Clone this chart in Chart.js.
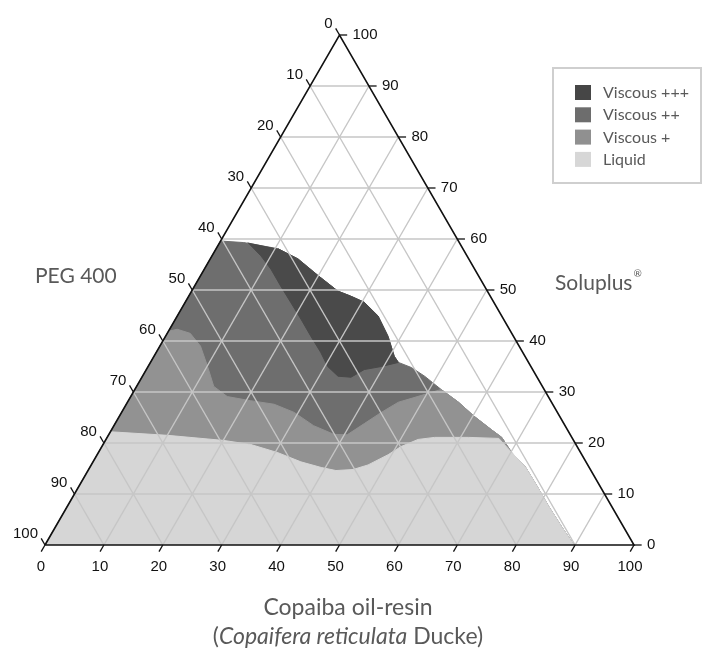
<!DOCTYPE html>
<html>
<head>
<meta charset="utf-8">
<script src="https://cdn.jsdelivr.net/npm/chart.js@4.4.1/dist/chart.umd.min.js"></script>
<style>
  html, body { margin: 0; padding: 0; background: #fff; }
  #wrap { width: 708px; height: 648px; }
</style>
</head>
<body>
<div id="wrap"><canvas id="ternary" width="708" height="648"></canvas></div>
<script>
// axis ticks (same 0..100 scale on the three sides)
const tickValues = [0, 10, 20, 30, 40, 50, 60, 70, 80, 90, 100];
const gridValues = [10, 20, 30, 40, 50, 60, 70, 80, 90];

const legendLabels = ['Viscous +++', 'Viscous ++', 'Viscous +', 'Liquid'];
const legendColors = ['#464646', '#6d6d6d', '#909090', '#d7d7d7'];

// region borders, each point = [Copaiba %, Soluplus %]
// (PEG 400 is the rest to 100)
// top/right border of the whole viscous zone, from the PEG axis down to the base
const viscousEdge = [
  [0, 59.6], [4.1, 59.3], [10.5, 58.1], [14.9, 56.1], [20.0, 52.8], [24.8, 49.8],
  [27.5, 48.8], [30.4, 47.6], [34.1, 44.9], [37.8, 40.9], [40.8, 37.0], [42.1, 35.8],
  [44.8, 34.8], [47.9, 33.1], [52.0, 30.5], [56.2, 28.0], [60.3, 25.2], [64.5, 22.6],
  [67.0, 21.1], [70.2, 18.1], [73.8, 15.4], [77.8, 11.5], [81.8, 7.5], [85.9, 3.6], [89.8, 0]
];
// lower border of Viscous +++
const triplePlusEdge = [
  [4.8, 59.3], [8.3, 56.7], [11.3, 54.1], [14.6, 50.8], [17.9, 47.6], [21.3, 44.3],
  [24.7, 40.9], [27.9, 37.8], [30.5, 35.0], [33.2, 33.1], [35.5, 32.9], [37.0, 34.4],
  [39.6, 35.0], [42.1, 35.8]
];
// upper border of Viscous +
const plusEdge = [
  [0, 41.9], [1.3, 42.3], [3.9, 41.5], [6.9, 39.0], [10.1, 35.0], [13.1, 31.1],
  [16.4, 29.1], [20.7, 28.3], [25.1, 27.6], [29.3, 26.0], [33.9, 23.4], [38.2, 21.7],
  [40.5, 21.6], [42.3, 23.8], [44.1, 26.0], [46.0, 28.0], [48.2, 28.9], [50.6, 29.9]
];
// upper border of Liquid
const liquidEdge = [
  [0, 22.2], [10.1, 21.5], [20.1, 20.5], [25.1, 19.7], [30.5, 18.1], [35.3, 16.3],
  [39.3, 15.2], [42.1, 14.6], [44.9, 14.8], [47.0, 15.7], [49.4, 17.7], [50.8, 19.3],
  [53.0, 20.7], [55.6, 21.1], [61.4, 21.1], [66.6, 20.9]
];

const H = Math.sqrt(3) / 2;
// ternary (copaiba, soluplus) -> plane
function toXY(p) {
  return { x: p[0] + p[1] / 2, y: p[1] * H };
}

// closed shapes, painted from back to front
const viscous2Shape = [[0, 0]].concat(viscousEdge);
const viscous1Shape = plusEdge.concat(viscousEdge.filter(p => p[0] > 51), [[0, 0]]);
const viscous3Shape = triplePlusEdge.concat(viscousEdge.filter(p => p[0] > 4.8 && p[0] < 42.1).reverse());
const liquidShape = liquidEdge.concat(viscousEdge.filter(p => p[1] < 20), [[0, 0]]);

const datasets = [];

function addArea(points, color, order) {
  datasets.push({
    data: points.map(toXY),
    showLine: true,
    fill: 'shape',
    backgroundColor: color,
    borderColor: color,
    borderWidth: 1,
    pointRadius: 0,
    tension: 0,
    order: order
  });
}

function addLine(points, color, width, order, clip) {
  datasets.push({
    data: points.map(toXY),
    showLine: true,
    fill: false,
    borderColor: color,
    borderWidth: width,
    pointRadius: 0,
    tension: 0,
    order: order,
    clip: clip
  });
}

addArea(viscous2Shape, '#6e6e6e', 40);
addArea(viscous1Shape, '#929292', 30);
addArea(viscous3Shape, '#4a4a4a', 20);
addArea(liquidShape, '#d6d6d6', 10);

// grid
gridValues.forEach(v => {
  addLine([[0, v], [100 - v, v]], '#c6c6c6', 1.4, 5, 0);        // Soluplus
  addLine([[v, 0], [v, 100 - v]], '#c6c6c6', 1.4, 5, 0);        // Copaiba
  addLine([[100 - v, 0], [0, 100 - v]], '#c6c6c6', 1.4, 5, 0);  // PEG
});

// frame
addLine([[0, 0], [100, 0], [0, 100], [0, 0]], '#111', 1.6, 1, false);

// ticks
const tk = 1.3;
tickValues.forEach(v => {
  addLine([[v, 0], [v, -tk]], '#111', 1.3, 1, false);                        // bottom
  addLine([[100 - v, v], [100 - v + tk, v]], '#111', 1.3, 1, false);         // right
  addLine([[0, 100 - v], [-tk, 100 - v + tk]], '#111', 1.3, 1, false);       // left
});

const textPlugin = {
  id: 'ternaryText',
  afterDraw(chart) {
    const ctx = chart.ctx;
    const xs = chart.scales.x, ys = chart.scales.y;
    const px = p => [xs.getPixelForValue(p[0] + p[1] / 2), ys.getPixelForValue(p[1] * H)];
    ctx.save();

    // tick labels
    ctx.fillStyle = '#111';
    ctx.font = '15px "Liberation Sans", Arial, sans-serif';
    ctx.textBaseline = 'middle';
    tickValues.forEach(v => {
      let [x, y] = px([v, 0]);
      ctx.textAlign = 'center';
      ctx.fillText(String(v), x - 4, y + 22);

      [x, y] = px([0, 100 - v]);
      ctx.textAlign = 'right';
      ctx.fillText(String(v), x - 7, y - 11);

      [x, y] = px([100 - v, v]);
      ctx.textAlign = 'left';
      ctx.fillText(String(v), x + 13, y);
    });

    // axis titles
    ctx.fillStyle = '#595959';
    ctx.font = '21px Lato, "Open Sans", sans-serif';
    ctx.textAlign = 'left';
    ctx.fillText('PEG 400', 35, 276);

    ctx.fillText('Soluplus', 555, 283);
    const sw = ctx.measureText('Soluplus').width;
    ctx.font = '10px Lato, "Open Sans", sans-serif';
    ctx.fillText('®', 555 + sw + 1, 274);

    ctx.font = '23px Lato, "Open Sans", sans-serif';
    ctx.textAlign = 'center';
    ctx.fillText('Copaiba oil-resin', 348, 608);

    const parts = [
      ['(', 'normal'],
      ['Copaifera reticulata', 'italic'],
      [' Ducke)', 'normal']
    ];
    let total = 0;
    parts.forEach(p => {
      ctx.font = p[1] + ' 23px Lato, "Open Sans", sans-serif';
      total += ctx.measureText(p[0]).width;
    });
    let cx = 348 - total / 2;
    ctx.textAlign = 'left';
    parts.forEach(p => {
      ctx.font = p[1] + ' 23px Lato, "Open Sans", sans-serif';
      ctx.fillText(p[0], cx, 637);
      cx += ctx.measureText(p[0]).width;
    });

    // legend
    ctx.strokeStyle = '#cfcfcf';
    ctx.lineWidth = 2;
    ctx.strokeRect(553, 68, 148, 115);
    ctx.font = '16px Lato, "Open Sans", sans-serif';
    legendLabels.forEach((lab, i) => {
      const y = 85 + i * 22.3;
      ctx.fillStyle = legendColors[i];
      ctx.fillRect(575, y, 16, 15);
      ctx.fillStyle = '#595959';
      ctx.fillText(lab, 603, y + 8);
    });

    ctx.restore();
  }
};

new Chart(document.getElementById('ternary'), {
  type: 'scatter',
  data: { datasets: datasets },
  options: {
    responsive: false,
    animation: false,
    events: [],
    layout: { padding: { left: 45, right: 74, top: 35, bottom: 103 } },
    scales: {
      x: { type: 'linear', min: 0, max: 100, display: false },
      y: { type: 'linear', min: 0, max: 100 * H, display: false }
    },
    plugins: {
      legend: { display: false },
      tooltip: { enabled: false }
    }
  },
  plugins: [textPlugin]
});
</script>
</body>
</html>
